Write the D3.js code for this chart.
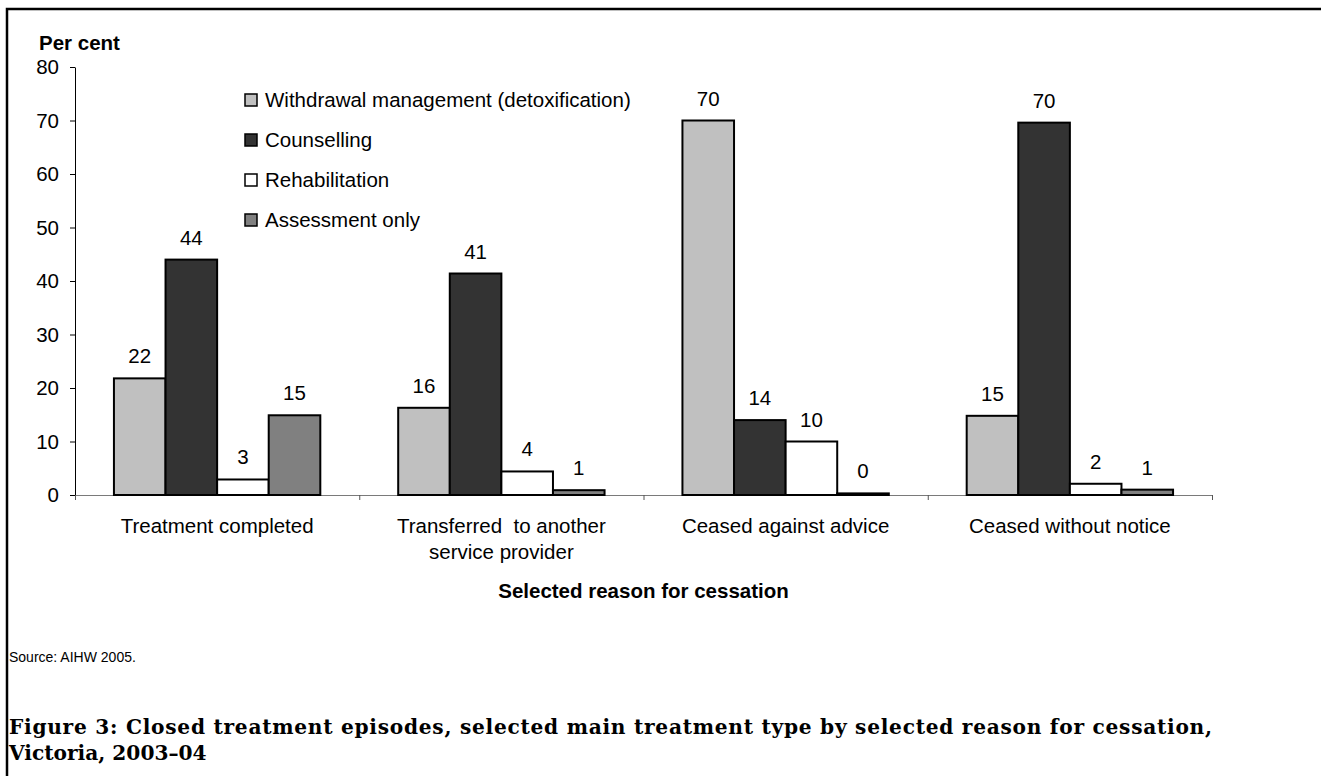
<!DOCTYPE html>
<html>
<head>
<meta charset="utf-8">
<script src="https://cdn.jsdelivr.net/npm/d3@7"></script>
<style>
  html, body { margin: 0; padding: 0; background: #fff; }
  svg { display: block; }
  text { font-family: "Liberation Sans", Arial, sans-serif; fill: #000; white-space: pre; }
</style>
</head>
<body>
<svg id="chart" width="1321" height="776"></svg>
<script>
// Reasons for cessation (x categories), each may wrap to two lines
const categories = [
  ["Treatment completed"],
  ["Transferred  to another", "service provider"],
  ["Ceased against advice"],
  ["Ceased without notice"]
];
const seriesNames = [
  "Withdrawal management (detoxification)",
  "Counselling",
  "Rehabilitation",
  "Assessment only"
];
const seriesColors = ["#c0c0c0", "#333333", "#ffffff", "#808080"];

// Per cent of closed episodes, one array per treatment type (by category)
const withdrawal     = [21.8, 16.3, 70.0, 14.8];
const counselling    = [44.0, 41.4, 14.0, 69.6];
const rehabilitation = [2.9, 4.4, 10.0, 2.1];
const assessment     = [14.9, 0.9, 0.3, 1.0];
const seriesValues = [withdrawal, counselling, rehabilitation, assessment];

const yTicks = [0, 10, 20, 30, 40, 50, 60, 70, 80];

const FONT = "20.5px";
const svg = d3.select("#chart");
const W = 1321, H = 776;
const plot = { left: 75, right: 1212, top: 67, bottom: 495 };

svg.append("rect").attr("width", W).attr("height", H).attr("fill", "#fff");
// page frame around the figure
svg.append("rect")
  .attr("x", 7).attr("y", 9).attr("width", 1340).attr("height", 820)
  .attr("fill", "none").attr("stroke", "#000").attr("stroke-width", 2.5);

const catKeys = categories.map(c => c.join(" "));
const y = d3.scaleLinear().domain([0, 80]).range([plot.bottom, plot.top]);
const x0 = d3.scaleBand().domain(catKeys).range([plot.left, plot.right])
  .paddingInner(0.274).paddingOuter(0.137);
const x1 = d3.scaleBand().domain(d3.range(seriesNames.length)).range([0, x0.bandwidth()]);
const xEdge = d3.scaleLinear().domain([0, categories.length]).range([plot.left, plot.right]);

// y axis
const yAxis = svg.append("g")
  .attr("transform", `translate(${plot.left},0)`)
  .call(d3.axisLeft(y).tickValues(yTicks).tickSize(5).tickSizeOuter(0).tickPadding(11));
yAxis.select(".domain").attr("stroke", "#000").attr("stroke-width", 1);
yAxis.selectAll(".tick line").attr("stroke", "#000");
yAxis.selectAll(".tick text").style("font-size", FONT).attr("font-family", null);

// x axis with ticks at the category boundaries
const xAxis = svg.append("g")
  .attr("transform", `translate(0,${plot.bottom})`)
  .call(d3.axisBottom(xEdge).tickValues(d3.range(categories.length + 1))
    .tickSize(5).tickSizeOuter(0).tickFormat(""));
xAxis.select(".domain").attr("stroke", "#7a7a7a").attr("stroke-width", 1.2);
xAxis.selectAll(".tick line").attr("stroke", "#555");

// bars
const groups = svg.append("g").selectAll("g")
  .data(catKeys).join("g")
  .attr("transform", d => `translate(${x0(d)},0)`);

groups.selectAll("rect")
  .data((d, ci) => seriesValues.map((vals, si) => ({ si, v: vals[ci] })))
  .join("rect")
  .attr("x", d => x1(d.si))
  .attr("y", d => y(d.v))
  .attr("width", x1.bandwidth())
  .attr("height", d => plot.bottom - y(d.v))
  .attr("fill", d => seriesColors[d.si])
  .attr("stroke", "#000")
  .attr("stroke-width", 2);

// value labels
groups.selectAll("text.val")
  .data((d, ci) => seriesValues.map((vals, si) => ({ si, v: vals[ci] })))
  .join("text")
  .attr("class", "val")
  .attr("x", d => x1(d.si) + x1.bandwidth() / 2)
  .attr("y", d => y(d.v) - 15)
  .attr("text-anchor", "middle")
  .style("font-size", FONT)
  .text(d => d3.format(".0f")(d.v));

// category labels
categories.forEach((lines, i) => {
  const cx = x0(catKeys[i]) + x0.bandwidth() / 2;
  lines.forEach((ln, j) => {
    svg.append("text")
      .attr("x", cx).attr("y", 533 + j * 26)
      .attr("text-anchor", "middle")
      .style("font-size", FONT)
      .text(ln);
  });
});

// axis titles
svg.append("text")
  .attr("x", 39).attr("y", 50)
  .style("font-size", FONT).style("font-weight", "bold")
  .text("Per cent");
svg.append("text")
  .attr("x", (plot.left + plot.right) / 2).attr("y", 598)
  .attr("text-anchor", "middle")
  .style("font-size", FONT).style("font-weight", "bold")
  .text("Selected reason for cessation");

// legend
const legend = svg.append("g").selectAll("g")
  .data(seriesNames).join("g")
  .attr("transform", (d, i) => `translate(245,${100 + i * 40})`);
legend.append("rect")
  .attr("x", 0).attr("y", -6).attr("width", 12).attr("height", 12)
  .attr("fill", (d, i) => seriesColors[i])
  .attr("stroke", "#000").attr("stroke-width", 1.5);
legend.append("text")
  .attr("x", 20).attr("y", 7)
  .style("font-size", FONT)
  .text(d => d);

// source note
svg.append("text")
  .attr("x", 9).attr("y", 662)
  .style("font-size", "14px")
  .text("Source: AIHW 2005.");

// figure caption
const caption = [
  "Figure 3: Closed treatment episodes, selected main treatment type by selected reason for cessation,",
  "Victoria, 2003\u201304"
];
const capText = svg.append("g").selectAll("text")
  .data(caption).join("text")
  .attr("x", 9)
  .attr("y", (d, i) => 734 + i * 26)
  .style("font-family", "'DejaVu Serif', 'Liberation Serif', serif")
  .style("font-size", "18px")
  .style("font-weight", "bold")
  .text(d => d);
// keep the first caption line spanning the figure width
const first = capText.nodes()[0];
const len = first.getComputedTextLength();
const target = 1203;
if (Math.abs(len - target) > 4) {
  const scale = Math.max(0.9, Math.min(1.12, target / len));
  capText.style("font-size", (18 * scale) + "px");
  const len2 = first.getComputedTextLength();
  if (Math.abs(len2 - target) > 4) {
    d3.select(first).attr("textLength", target).attr("lengthAdjust", "spacing");
  }
}
</script>
</body>
</html>
